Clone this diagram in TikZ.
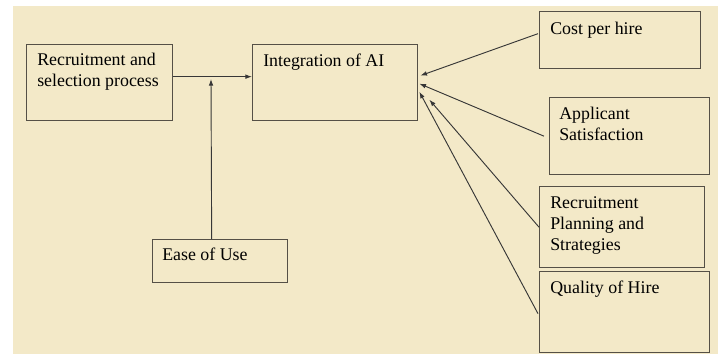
\documentclass[tikz,border=0pt]{standalone}
\usepackage{fontspec}
\setmainfont{Liberation Serif}
\usepackage{xcolor}
\usetikzlibrary{arrows.meta,calc}
\definecolor{paper}{RGB}{243,233,200}
\definecolor{edge}{RGB}{85,80,70}
\definecolor{wire}{RGB}{55,55,55}
\tikzset{
    box/.style={draw=edge,line width=1pt,anchor=north west,inner sep=0pt},
    txt/.style={anchor=north west,align=left,inner sep=0pt,
        font=\fontsize{13.4}{15.8}\selectfont},
    arr/.style={draw=wire,line width=0.7pt,-{Latex[length=5pt,width=3.5pt]}}
}

\begin{document}
\begin{tikzpicture}[x=0.75pt,y=-0.75pt]
    % Paper
    \useasboundingbox (0,0) rectangle (718,354);
    \fill[paper] (13,6) rectangle (718,354);

    % Boxes
    \node[box,minimum width=109.5pt,minimum height=57pt] (rec) at (26,44) {};
    \node[box,minimum width=123.75pt,minimum height=57pt] (int) at (252,44) {};
    \node[box,minimum width=101.25pt,minimum height=32.25pt] (ease) at (152,239) {};
    \node[box,minimum width=120.75pt,minimum height=42.75pt] (cost) at (539,11) {};
    \node[box,minimum width=120pt,minimum height=57.75pt] (app) at (549,97) {};
    \node[box,minimum width=123.75pt,minimum height=60.75pt] (plan) at (539,186) {};
    \node[box,minimum width=127.5pt,minimum height=60.75pt] (qual) at (539,271) {};

    % Labels
    \node[txt] (rec-t) at ($(rec.north west)+(11,9)$) {Recruitment and\\selection process};
    \node[txt] (int-t) at ($(int.north west)+(11,10)$) {Integration of AI};
    \node[txt] (ease-t) at ($(ease.north west)+(10,9)$) {Ease of Use};
    \node[txt] (cost-t) at ($(cost.north west)+(11,11)$) {Cost per hire};
    \node[txt] (app-t) at ($(app.north west)+(10,10)$) {Applicant\\Satisfaction};
    \node[txt] (plan-t) at ($(plan.north west)+(11,10)$) {Recruitment\\Planning and\\Strategies};
    \node[txt] (qual-t) at ($(qual.north west)+(11,10)$) {Quality of Hire};

    % Arrows
    \coordinate (join) at (211,79);
    \draw[arr] ($(rec.east)+(0,-6)$) -- ($(int.west)+(0,-6)$);
    \draw[arr] ($(ease.north)+(-8.5,0)$) -- (join);
    \draw[arr] ($(cost.west)+(-1,-6.5)$) -- ($(int.east)+(2,-7)$);
    \draw[arr] ($(app.west)+(-5,0)$) -- ($(int.east)+(1,1)$);
    \draw[arr] (plan.west) -- ($(int.east)+(11,17)$);
    \draw[arr] ($(qual.west)+(-1,1.5)$) -- ($(int.east)+(1,9)$);
\end{tikzpicture}
\end{document}
